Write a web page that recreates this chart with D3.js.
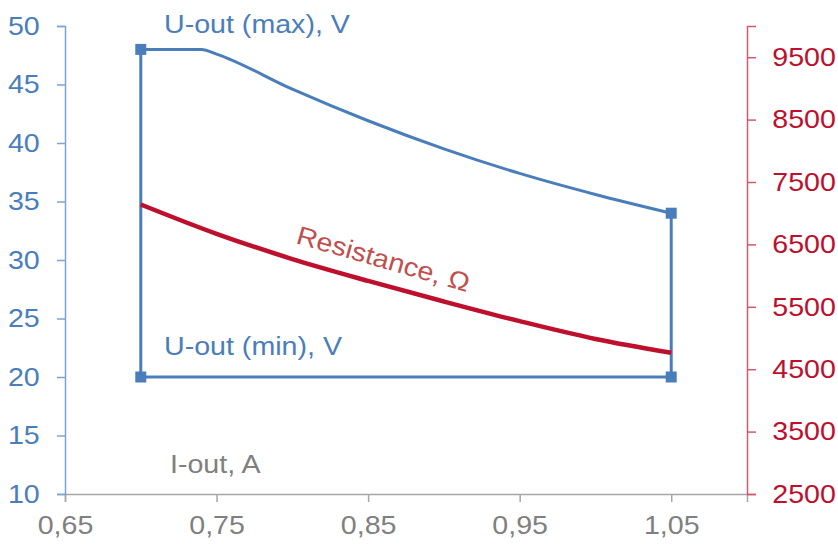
<!DOCTYPE html>
<html>
<head>
<meta charset="utf-8">
<script src="https://cdn.jsdelivr.net/npm/d3@7"></script>
<style>
  html, body { margin: 0; padding: 0; background: #fff; }
  svg { display: block; font-family: "Liberation Sans", Arial, sans-serif; }
</style>
</head>
<body>
<svg id="chart" width="838" height="547"></svg>
<script>
// ---- data ----
const xTicks = [0.65, 0.75, 0.85, 0.95, 1.05];
const leftTicks = [10, 15, 20, 25, 30, 35, 40, 45, 50];
const rightTicks = [2500, 3500, 4500, 5500, 6500, 7500, 8500, 9500];

const uMaxI = [0.70, 0.74, 0.75, 0.80, 0.85, 0.90, 0.95, 1.00, 1.05];
const uMaxV = [48, 48, 47.6, 44.6, 41.9, 39.5, 37.4, 35.6, 34];

const uMinI = [0.70, 1.05];
const uMinV = [20, 20];

const resI = [0.70, 0.75, 0.80, 0.85, 0.90, 0.95, 1.00, 1.05];
const resOhm = [7140, 6670, 6265, 5915, 5585, 5270, 4985, 4765];

const labels = {
  uMax: "U-out (max), V",
  uMin: "U-out (min), V",
  res: "Resistance, Ω",
  x: "I-out, A"
};

// ---- styles ----
const BLUE = "#4A7EBB";
const RED = "#BE0F2D";
const RED_TXT = "#C0504D";
const GREY = "#808080";
const FS = 26;
const SX = "scale(1.1,1)";

const svg = d3.select("#chart");
const mLeft = 65, mRight = 747, mTop = 26, mBottom = 494;

const x = d3.scaleLinear().domain([0.65, 1.10]).range([mLeft, mRight]);
const yL = d3.scaleLinear().domain([10, 50]).range([mBottom, mTop]);
const yR = d3.scaleLinear().domain([2500, 10000]).range([mBottom, mTop]);

// x axis
const gx = svg.append("g").attr("transform", `translate(0,${mBottom})`)
  .call(d3.axisBottom(x).tickValues(xTicks).tickSize(8).tickPadding(14)
    .tickFormat(d => d3.format(".2f")(d).replace(".", ",")));
gx.select(".domain").attr("stroke", "#A6A6A6").attr("stroke-width", 1.5);
gx.selectAll(".tick line").attr("stroke", "#A6A6A6").attr("stroke-width", 1.5);
gx.selectAll(".tick text").attr("fill", GREY).attr("font-size", FS)
  .attr("font-family", "Liberation Sans, Arial, sans-serif").attr("transform", SX);

// left axis
const gl = svg.append("g").attr("transform", `translate(${mLeft},0)`)
  .call(d3.axisLeft(yL).tickValues(leftTicks).tickSize(8).tickPadding(15));
gl.select(".domain").attr("stroke", "#7EA3D0").attr("stroke-width", 1.5);
gl.selectAll(".tick line").attr("stroke", "#7EA3D0").attr("stroke-width", 1.5);
gl.selectAll(".tick text").attr("fill", BLUE).attr("font-size", FS)
  .attr("font-family", "Liberation Sans, Arial, sans-serif").attr("transform", SX);

// right axis
const gr = svg.append("g").attr("transform", `translate(${mRight},0)`)
  .call(d3.axisRight(yR).tickValues(rightTicks).tickSize(9).tickPadding(14).tickFormat(d3.format("d")));
gr.select(".domain").attr("stroke", "#D05A6E").attr("stroke-width", 1.5);
gr.selectAll(".tick line").attr("stroke", "#D05A6E").attr("stroke-width", 1.5);
gr.selectAll(".tick text").attr("fill", RED).attr("font-size", FS)
  .attr("font-family", "Liberation Sans, Arial, sans-serif").attr("transform", SX);

// blue envelope
const maxPts = uMaxI.map((d, i) => [d, uMaxV[i]]);
const minPts = uMinI.map((d, i) => [d, uMinV[i]]);
const lineSmooth = d3.line().x(d => x(d[0])).y(d => yL(d[1])).curve(d3.curveMonotoneX);
const lineStraight = d3.line().x(d => x(d[0])).y(d => yL(d[1]));

svg.append("path").attr("d", lineSmooth(maxPts)).attr("fill", "none")
  .attr("stroke", BLUE).attr("stroke-width", 3);
svg.append("path").attr("d", lineStraight(minPts)).attr("fill", "none")
  .attr("stroke", BLUE).attr("stroke-width", 3);
// vertical edges
const first = maxPts[0], last = maxPts[maxPts.length - 1];
svg.append("path").attr("d", lineStraight([[first[0], uMinV[0]], first])).attr("fill", "none")
  .attr("stroke", BLUE).attr("stroke-width", 3);
svg.append("path").attr("d", lineStraight([[last[0], uMinV[1]], last])).attr("fill", "none")
  .attr("stroke", BLUE).attr("stroke-width", 3);

// markers
const markers = [first, last, minPts[0], minPts[1]];
svg.selectAll("rect.mk").data(markers).join("rect").attr("class", "mk")
  .attr("x", d => x(d[0]) - 5.5).attr("y", d => yL(d[1]) - 5.5)
  .attr("width", 11).attr("height", 11).attr("fill", BLUE);

// resistance
const resPts = resI.map((d, i) => [d, resOhm[i]]);
svg.append("path")
  .attr("d", d3.line().x(d => x(d[0])).y(d => yR(d[1])).curve(d3.curveCatmullRom)(resPts))
  .attr("fill", "none").attr("stroke", RED).attr("stroke-width", 4.5);

// labels
svg.append("text").attr("transform", `translate(164,33) ${SX}`).attr("fill", BLUE).attr("font-size", FS).text(labels.uMax);
svg.append("text").attr("transform", `translate(164,355) ${SX}`).attr("fill", BLUE).attr("font-size", FS).text(labels.uMin);
svg.append("text").attr("transform", `translate(170,473) ${SX}`).attr("fill", GREY).attr("font-size", FS).text(labels.x);
svg.append("text").attr("transform", `translate(295,243) rotate(16) ${SX}`)
  .attr("fill", RED_TXT).attr("font-size", FS).text(labels.res);
</script>
</body>
</html>
